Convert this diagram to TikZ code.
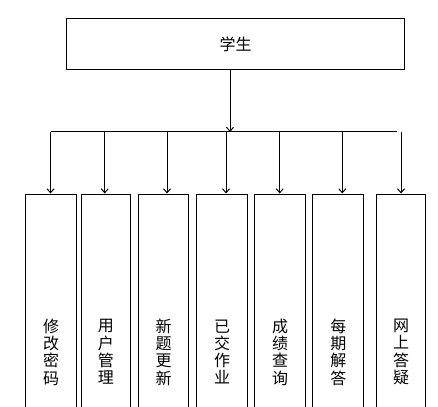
\documentclass[tikz,border=0pt]{standalone}
\usepackage{fontspec}
\setmainfont{Noto Sans CJK SC}
\usetikzlibrary{arrows.meta}

\begin{document}
\begin{tikzpicture}[x=1pt, y=-1pt, line width=1pt,
		module/.style={draw, anchor=north west, inner sep=0pt, minimum height=316pt, align=center, font=\fontsize{16}{17.3}\selectfont},
		arr/.style={-{Straight Barb[length=4pt, width=7pt]}}]
			\useasboundingbox (0,0) rectangle (438,406);
			% top box
			\node[draw, minimum width=338pt, minimum height=51pt, font=\fontsize{16}{19}\selectfont] (student) at (235.5,44) {学生};
			% modules
			\node[module, minimum width=50.7pt] (pwd) at (25.3,193.5) {修\\改\\密\\码};
			\node[module, minimum width=49.3pt] (user) at (80.7,193.5) {用\\户\\管\\理};
			\node[module, minimum width=50.6pt] (news) at (137.7,193.5) {新\\题\\更\\新};
			\node[module, minimum width=50.4pt] (work) at (196.3,193.5) {已\\交\\作\\业};
			\node[module, minimum width=50.7pt] (score) at (254.3,193.5) {成\\绩\\查\\询};
			\node[module, minimum width=51pt] (answer) at (312.3,193.5) {每\\期\\解\\答};
			\node[module, minimum width=49.6pt] (online) at (375.7,193.5) {网\\上\\答\\疑};
			% bus line
			\coordinate (top) at (230,132);
			\coordinate (b1) at (50.5,132);
			\coordinate (b2) at (104.7,132);
			\coordinate (b3) at (167,132);
			\coordinate (b4) at (226,132);
			\coordinate (b5) at (279.7,132);
			\coordinate (b6) at (342.3,132);
			\coordinate (b7) at (401,132);
			\coordinate (bend) at (397,132);
			\draw[arr] (student.south -| top) -- (top);
			\draw (b1) -- (bend);
			\draw[arr] (b1) -- (b1 |- pwd.north);
			\draw[arr] (b2) -- (b2 |- user.north);
			\draw[arr] (b3) -- (b3 |- news.north);
			\draw[arr] (b4) -- (b4 |- work.north);
			\draw[arr] (b5) -- (b5 |- score.north);
			\draw[arr] (b6) -- (b6 |- answer.north);
			\draw[arr] (b7) -- (b7 |- online.north);
		\end{tikzpicture}
\end{document}
